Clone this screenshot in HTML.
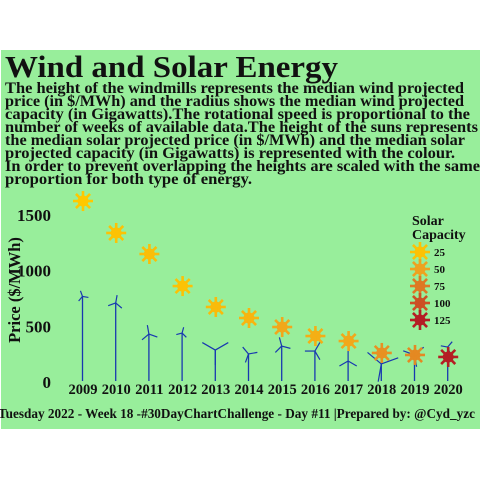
<!DOCTYPE html>
<html><head><meta charset="utf-8"><style>
html,body{margin:0;padding:0;background:#fff;}
svg{display:block;}
text{font-family:"Liberation Serif",serif;font-weight:bold;fill:#111;}
</style></head><body>
<svg id="chart" width="480" height="480" viewBox="0 0 480 480">
<rect x="1" y="50" width="479" height="379" fill="#98ee9b"/>
<text x="5" y="77" font-size="31" textLength="333" lengthAdjust="spacingAndGlyphs">Wind and Solar Energy</text>
<g font-size="15.5">
<text x="5" y="93" textLength="459" lengthAdjust="spacingAndGlyphs">The height of the windmills represents the median wind projected</text>
<text x="5" y="106" textLength="459" lengthAdjust="spacingAndGlyphs">price (in $/MWh) and the radius shows the median wind projected</text>
<text x="5" y="119" textLength="465" lengthAdjust="spacingAndGlyphs">capacity (in Gigawatts).The rotational speed is proportional to the</text>
<text x="5" y="132" textLength="473" lengthAdjust="spacingAndGlyphs">number of weeks of available data.The height of the suns represents</text>
<text x="5" y="145" textLength="460" lengthAdjust="spacingAndGlyphs">the median solar projected price (in $/MWh) and the  median solar</text>
<text x="5" y="158" textLength="450" lengthAdjust="spacingAndGlyphs">projected capacity (in Gigawatts) is represented with the colour.</text>
<text x="5" y="171" textLength="475" lengthAdjust="spacingAndGlyphs">In order to prevent overlapping the heights are scaled with the same</text>
<text x="5" y="184" textLength="247" lengthAdjust="spacingAndGlyphs">proportion for both type of energy.</text>
</g>
<text transform="translate(20,290) rotate(-90)" text-anchor="middle" font-size="16.5">Price ($/MWh)</text>
<g id="yticks"></g>
<g id="xticks"></g>
<g id="winds"></g>
<g id="suns"></g>
<g id="legend">
<text x="412" y="225" font-size="14">Solar</text>
<text x="412" y="239" font-size="14">Capacity</text>
</g>
<text x="-2" y="418" font-size="13.5" textLength="477" lengthAdjust="spacingAndGlyphs">Tuesday 2022 - Week 18 -#30DayChartChallenge - Day #11 |Prepared by: @Cyd_yzc</text>
</svg>
<script>
const years = [2009,2010,2011,2012,2013,2014,2015,2016,2017,2018,2019,2020];
const solarPrice = [1626,1339,1150,862,674,575,494,413,368,261,243,225];
const solarCap = [20,25,28,25,30,35,45,40,45,60,65,125];
const windPrice = [769,710,431,440,287,252,323,278,189,162,243,314];
const windCap = [6,8,9,6,15,9,9,10,10,18,12,7];
const windAngle = [-10,80,-20,75,30,10,-15,60,90,20,40,50];
const yTicks = [0,500,1000,1500];
const legendCaps = [25,50,75,100,125];

const NS='http://www.w3.org/2000/svg';
const y = v => 382 - v*0.1113;
const x = i => 83 + i*33.2;
function col(c){
  const stops=[[20,[255,200,0]],[50,[238,162,32]],[75,[222,120,36]],[100,[204,80,36]],[125,[180,30,36]]];
  if(c<=stops[0][0])return 'rgb('+stops[0][1]+')';
  for(let k=1;k<stops.length;k++){if(c<=stops[k][0]){const t=(c-stops[k-1][0])/(stops[k][0]-stops[k-1][0]);const a=stops[k-1][1],b=stops[k][1];return 'rgb('+a.map((v,j)=>Math.round(v+(b[j]-v)*t)).join(',')+')';}}
  return 'rgb('+stops[4][1]+')';
}
function mk(tag,attrs,parent){const e=document.createElementNS(NS,tag);for(const k in attrs)e.setAttribute(k,attrs[k]);parent.appendChild(e);return e;}
function sun(cx,cy,color,parent){
  const g=mk('g',{},parent);
  mk('circle',{cx:cx,cy:cy,r:5.5,fill:color},g);
  for(let a=0;a<8;a++){const t=a*Math.PI/4;mk('line',{x1:cx,y1:cy,x2:cx+10*Math.cos(t),y2:cy+10*Math.sin(t),stroke:color,'stroke-width':2.6},g);}
  return g;
}
const yt=document.getElementById('yticks');
yTicks.forEach(v=>{const t=mk('text',{x:51,y:y(v)+6,'text-anchor':'end','font-size':17},yt);t.textContent=v;

});
const xt=document.getElementById('xticks');
years.forEach((yr,i)=>{const t=mk('text',{x:x(i),y:394,'text-anchor':'middle','font-size':14.5},xt);t.textContent=yr;

});
const wg=document.getElementById('winds');
years.forEach((yr,i)=>{
  const g=mk('g',{},wg);
  
  
  const hx=x(i)-0.5,hy=y(windPrice[i]);
  mk('line',{x1:hx,y1:hy,x2:hx,y2:381,stroke:'#1838b0','stroke-width':1.3},g);
  for(let b=0;b<3;b++){const t=(windAngle[i]+b*120)*Math.PI/180;mk('line',{x1:hx,y1:hy,x2:hx+windCap[i]*Math.cos(t),y2:hy-windCap[i]*Math.sin(t),stroke:'#1838b0','stroke-width':1.2},g);}
});
const sg=document.getElementById('suns');
years.forEach((yr,i)=>{const g=sun(x(i),y(solarPrice[i]),col(solarCap[i]),sg);

});
const lg=document.getElementById('legend');
legendCaps.forEach((c,k)=>{const cy=252+k*17;const g=sun(420,cy,col(c),lg);


const t=mk('text',{x:434,y:cy+4,'font-size':11},lg);t.textContent=c;

});
</script>
</body></html>
